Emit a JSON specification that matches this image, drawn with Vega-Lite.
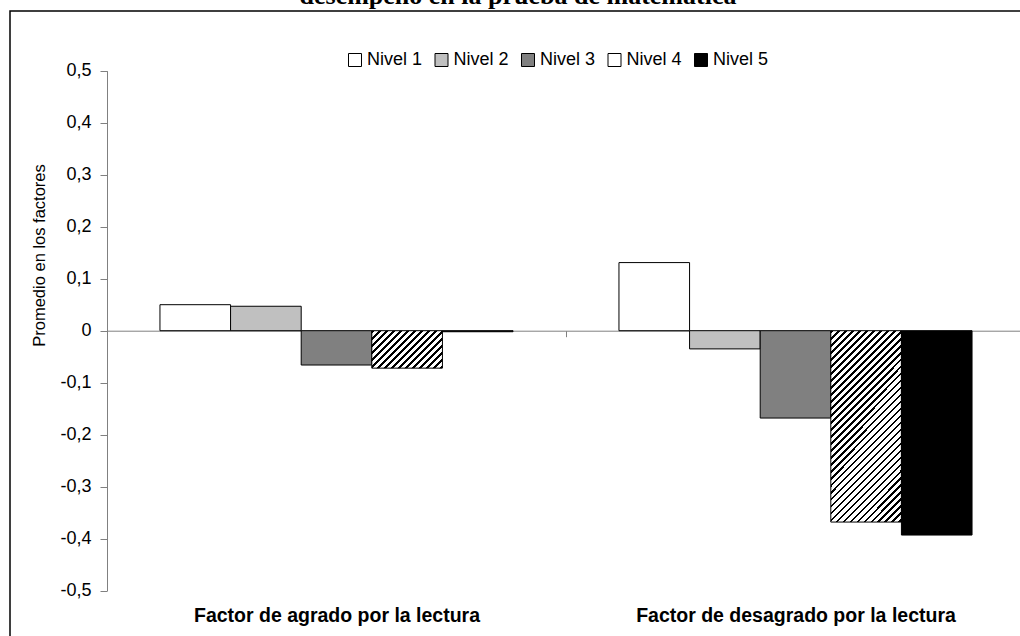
{
  "$schema": "https://vega.github.io/schema/vega-lite/v6.json",
  "autosize": {"type": "none"},
  "padding": {"left": 10, "top": 11, "right": -6, "bottom": -10},
  "width": 1016,
  "height": 635,
  "background": "white",
  "title": {"text": "desempeño en la prueba de matemática", "font": "Liberation Serif", "fontSize": 26, "fontWeight": "bold", "color": "black", "anchor": "middle", "baseline": "alphabetic", "offset": -19},
  "data": {"values": [
    {"Factor": "Factor de agrado por la lectura", "Nivel": "Nivel 1", "Valor": 0.050},
    {"Factor": "Factor de agrado por la lectura", "Nivel": "Nivel 2", "Valor": 0.047},
    {"Factor": "Factor de agrado por la lectura", "Nivel": "Nivel 3", "Valor": -0.066},
    {"Factor": "Factor de agrado por la lectura", "Nivel": "Nivel 4", "Valor": -0.072},
    {"Factor": "Factor de agrado por la lectura", "Nivel": "Nivel 5", "Valor": -0.002},
    {"Factor": "Factor de desagrado por la lectura", "Nivel": "Nivel 1", "Valor": 0.131},
    {"Factor": "Factor de desagrado por la lectura", "Nivel": "Nivel 2", "Valor": -0.035},
    {"Factor": "Factor de desagrado por la lectura", "Nivel": "Nivel 3", "Valor": -0.168},
    {"Factor": "Factor de desagrado por la lectura", "Nivel": "Nivel 4", "Valor": -0.368},
    {"Factor": "Factor de desagrado por la lectura", "Nivel": "Nivel 5", "Valor": -0.393}
  ]},
  "mark": {"type": "bar", "stroke": "black", "strokeWidth": 1},
  "encoding": {
    "x": {"field": "Factor", "type": "nominal", "sort": null,
      "scale": {"range": [97, 1015], "paddingInner": 0, "paddingOuter": 0},
      "axis": {"orient": "bottom", "offset": -315.3, "title": null, "domainColor": "#808080", "tickColor": "#808080", "tickBand": "extent", "tickSize": 6, "labelPadding": 270, "labelFontSize": 19.5, "labelFontWeight": "bold", "labelColor": "black", "labelAngle": 0, "labelLimit": 0, "grid": false}},
    "xOffset": {"field": "Nivel", "type": "nominal", "scale": {"paddingInner": 0, "paddingOuter": 0.75}},
    "y": {"field": "Valor", "type": "quantitative",
      "scale": {"domain": [-0.5, 0.5], "range": [579.7, 59.7], "nice": false, "zero": false},
      "axis": {"orient": "left", "offset": -97, "values": [-0.5, -0.4, -0.3, -0.2, -0.1, 0, 0.1, 0.2, 0.3, 0.4, 0.5],
        "labelExpr": "datum.value == 0 ? '0' : (datum.value < 0 ? '-' : '') + replace(format(abs(datum.value), '.1f'), '.', ',')",
        "domainColor": "#808080", "tickColor": "#808080", "tickSize": 7, "labelPadding": 9, "labelFontSize": 18, "labelColor": "black", "grid": false,
        "title": "Promedio en los factores", "titleFontSize": 16.5, "titleFontWeight": "normal", "titleColor": "black", "titleX": -60, "titleY": 244, "titleAngle": -90, "titleAlign": "center", "titleBaseline": "bottom"}},
    "fill": {
      "condition": [
        {"test": "datum.Nivel == 'Nivel 4' && datum.Factor == 'Factor de agrado por la lectura'", "value": {"gradient": "linear", "x1": 0, "y1": 0, "x2": 2.984, "y2": 1.582, "stops": [
          {"offset":0,"color":"#000"},{"offset":0.0104,"color":"#000"},{"offset":0.0104,"color":"#fff"},{"offset":0.0259,"color":"#fff"},
          {"offset":0.0259,"color":"#000"},{"offset":0.0363,"color":"#000"},{"offset":0.0363,"color":"#fff"},{"offset":0.0519,"color":"#fff"},
          {"offset":0.0519,"color":"#000"},{"offset":0.0622,"color":"#000"},{"offset":0.0622,"color":"#fff"},{"offset":0.0778,"color":"#fff"},
          {"offset":0.0778,"color":"#000"},{"offset":0.0881,"color":"#000"},{"offset":0.0881,"color":"#fff"},{"offset":0.1037,"color":"#fff"},
          {"offset":0.1037,"color":"#000"},{"offset":0.1141,"color":"#000"},{"offset":0.1141,"color":"#fff"},{"offset":0.1296,"color":"#fff"},
          {"offset":0.1296,"color":"#000"},{"offset":0.1400,"color":"#000"},{"offset":0.1400,"color":"#fff"},{"offset":0.1556,"color":"#fff"},
          {"offset":0.1556,"color":"#000"},{"offset":0.1659,"color":"#000"},{"offset":0.1659,"color":"#fff"},{"offset":0.1815,"color":"#fff"},
          {"offset":0.1815,"color":"#000"},{"offset":0.1919,"color":"#000"},{"offset":0.1919,"color":"#fff"},{"offset":0.2074,"color":"#fff"},
          {"offset":0.2074,"color":"#000"},{"offset":0.2178,"color":"#000"},{"offset":0.2178,"color":"#fff"},{"offset":0.2333,"color":"#fff"},
          {"offset":0.2333,"color":"#000"},{"offset":0.2437,"color":"#000"},{"offset":0.2437,"color":"#fff"},{"offset":0.2593,"color":"#fff"},
          {"offset":0.2593,"color":"#000"},{"offset":0.2696,"color":"#000"},{"offset":0.2696,"color":"#fff"},{"offset":0.2852,"color":"#fff"},
          {"offset":0.2852,"color":"#000"},{"offset":0.2956,"color":"#000"},{"offset":0.2956,"color":"#fff"},{"offset":0.3111,"color":"#fff"},
          {"offset":0.3111,"color":"#000"},{"offset":0.3215,"color":"#000"},{"offset":0.3215,"color":"#fff"},{"offset":0.3370,"color":"#fff"},
          {"offset":0.3370,"color":"#000"},{"offset":0.3474,"color":"#000"},{"offset":0.3474,"color":"#fff"},{"offset":0.3630,"color":"#fff"},
          {"offset":0.3630,"color":"#000"},{"offset":0.3733,"color":"#000"},{"offset":0.3733,"color":"#fff"},{"offset":0.3889,"color":"#fff"},
          {"offset":0.3889,"color":"#000"},{"offset":0.3993,"color":"#000"},{"offset":0.3993,"color":"#fff"},{"offset":0.4148,"color":"#fff"},
          {"offset":0.4148,"color":"#000"},{"offset":0.4252,"color":"#000"},{"offset":0.4252,"color":"#fff"},{"offset":0.4407,"color":"#fff"}
        ]}},
        {"test": "datum.Nivel == 'Nivel 4'", "value": {"gradient": "linear", "x1": 0, "y1": 0, "x2": 0.458, "y2": 1.239, "stops": [
          {"offset":0,"color":"#000"},{"offset":0.0104,"color":"#000"},{"offset":0.0104,"color":"#fff"},{"offset":0.0259,"color":"#fff"},
          {"offset":0.0259,"color":"#000"},{"offset":0.0363,"color":"#000"},{"offset":0.0363,"color":"#fff"},{"offset":0.0519,"color":"#fff"},
          {"offset":0.0519,"color":"#000"},{"offset":0.0622,"color":"#000"},{"offset":0.0622,"color":"#fff"},{"offset":0.0778,"color":"#fff"},
          {"offset":0.0778,"color":"#000"},{"offset":0.0881,"color":"#000"},{"offset":0.0881,"color":"#fff"},{"offset":0.1037,"color":"#fff"},
          {"offset":0.1037,"color":"#000"},{"offset":0.1141,"color":"#000"},{"offset":0.1141,"color":"#fff"},{"offset":0.1296,"color":"#fff"},
          {"offset":0.1296,"color":"#000"},{"offset":0.1400,"color":"#000"},{"offset":0.1400,"color":"#fff"},{"offset":0.1556,"color":"#fff"},
          {"offset":0.1556,"color":"#000"},{"offset":0.1659,"color":"#000"},{"offset":0.1659,"color":"#fff"},{"offset":0.1815,"color":"#fff"},
          {"offset":0.1815,"color":"#000"},{"offset":0.1919,"color":"#000"},{"offset":0.1919,"color":"#fff"},{"offset":0.2074,"color":"#fff"},
          {"offset":0.2074,"color":"#000"},{"offset":0.2178,"color":"#000"},{"offset":0.2178,"color":"#fff"},{"offset":0.2333,"color":"#fff"},
          {"offset":0.2333,"color":"#000"},{"offset":0.2437,"color":"#000"},{"offset":0.2437,"color":"#fff"},{"offset":0.2593,"color":"#fff"},
          {"offset":0.2593,"color":"#000"},{"offset":0.2696,"color":"#000"},{"offset":0.2696,"color":"#fff"},{"offset":0.2852,"color":"#fff"},
          {"offset":0.2852,"color":"#000"},{"offset":0.2956,"color":"#000"},{"offset":0.2956,"color":"#fff"},{"offset":0.3111,"color":"#fff"},
          {"offset":0.3111,"color":"#000"},{"offset":0.3215,"color":"#000"},{"offset":0.3215,"color":"#fff"},{"offset":0.3370,"color":"#fff"},
          {"offset":0.3370,"color":"#000"},{"offset":0.3474,"color":"#000"},{"offset":0.3474,"color":"#fff"},{"offset":0.3630,"color":"#fff"},
          {"offset":0.3630,"color":"#000"},{"offset":0.3733,"color":"#000"},{"offset":0.3733,"color":"#fff"},{"offset":0.3889,"color":"#fff"},
          {"offset":0.3889,"color":"#000"},{"offset":0.3993,"color":"#000"},{"offset":0.3993,"color":"#fff"},{"offset":0.4148,"color":"#fff"},
          {"offset":0.4148,"color":"#000"},{"offset":0.4252,"color":"#000"},{"offset":0.4252,"color":"#fff"},{"offset":0.4407,"color":"#fff"},
          {"offset":0.4407,"color":"#000"},{"offset":0.4511,"color":"#000"},{"offset":0.4511,"color":"#fff"},{"offset":0.4667,"color":"#fff"},
          {"offset":0.4667,"color":"#000"},{"offset":0.4770,"color":"#000"},{"offset":0.4770,"color":"#fff"},{"offset":0.4926,"color":"#fff"},
          {"offset":0.4926,"color":"#000"},{"offset":0.5030,"color":"#000"},{"offset":0.5030,"color":"#fff"},{"offset":0.5185,"color":"#fff"},
          {"offset":0.5185,"color":"#000"},{"offset":0.5289,"color":"#000"},{"offset":0.5289,"color":"#fff"},{"offset":0.5444,"color":"#fff"},
          {"offset":0.5444,"color":"#000"},{"offset":0.5548,"color":"#000"},{"offset":0.5548,"color":"#fff"},{"offset":0.5704,"color":"#fff"},
          {"offset":0.5704,"color":"#000"},{"offset":0.5807,"color":"#000"},{"offset":0.5807,"color":"#fff"},{"offset":0.5963,"color":"#fff"},
          {"offset":0.5963,"color":"#000"},{"offset":0.6067,"color":"#000"},{"offset":0.6067,"color":"#fff"},{"offset":0.6222,"color":"#fff"},
          {"offset":0.6222,"color":"#000"},{"offset":0.6326,"color":"#000"},{"offset":0.6326,"color":"#fff"},{"offset":0.6481,"color":"#fff"},
          {"offset":0.6481,"color":"#000"},{"offset":0.6585,"color":"#000"},{"offset":0.6585,"color":"#fff"},{"offset":0.6741,"color":"#fff"},
          {"offset":0.6741,"color":"#000"},{"offset":0.6844,"color":"#000"},{"offset":0.6844,"color":"#fff"},{"offset":0.7000,"color":"#fff"},
          {"offset":0.7000,"color":"#000"},{"offset":0.7104,"color":"#000"},{"offset":0.7104,"color":"#fff"},{"offset":0.7259,"color":"#fff"},
          {"offset":0.7259,"color":"#000"},{"offset":0.7363,"color":"#000"},{"offset":0.7363,"color":"#fff"},{"offset":0.7519,"color":"#fff"},
          {"offset":0.7519,"color":"#000"},{"offset":0.7622,"color":"#000"},{"offset":0.7622,"color":"#fff"},{"offset":0.7778,"color":"#fff"},
          {"offset":0.7778,"color":"#000"},{"offset":0.7881,"color":"#000"},{"offset":0.7881,"color":"#fff"},{"offset":0.8037,"color":"#fff"},
          {"offset":0.8037,"color":"#000"},{"offset":0.8141,"color":"#000"},{"offset":0.8141,"color":"#fff"},{"offset":0.8296,"color":"#fff"},
          {"offset":0.8296,"color":"#000"},{"offset":0.8400,"color":"#000"},{"offset":0.8400,"color":"#fff"},{"offset":0.8556,"color":"#fff"},
          {"offset":0.8556,"color":"#000"},{"offset":0.8659,"color":"#000"},{"offset":0.8659,"color":"#fff"},{"offset":0.8815,"color":"#fff"},
          {"offset":0.8815,"color":"#000"},{"offset":0.8919,"color":"#000"},{"offset":0.8919,"color":"#fff"},{"offset":0.9074,"color":"#fff"},
          {"offset":0.9074,"color":"#000"},{"offset":0.9178,"color":"#000"},{"offset":0.9178,"color":"#fff"},{"offset":0.9333,"color":"#fff"},
          {"offset":0.9333,"color":"#000"},{"offset":0.9437,"color":"#000"},{"offset":0.9437,"color":"#fff"},{"offset":0.9593,"color":"#fff"},
          {"offset":0.9593,"color":"#000"},{"offset":0.9696,"color":"#000"},{"offset":0.9696,"color":"#fff"},{"offset":0.9852,"color":"#fff"},
          {"offset":0.9852,"color":"#000"},{"offset":0.9956,"color":"#000"},{"offset":0.9956,"color":"#fff"},{"offset":1,"color":"#fff"}
        ]}}
      ],
      "field": "Nivel", "type": "nominal",
      "scale": {"domain": ["Nivel 1", "Nivel 2", "Nivel 3", "Nivel 4", "Nivel 5"], "range": ["#ffffff", "#c0c0c0", "#808080", "#ffffff", "#000000"]},
      "legend": {"orient": "none", "legendX": 336, "legendY": 40, "direction": "horizontal", "columns": 5, "title": null,
        "symbolType": "square", "symbolSize": 169, "symbolStrokeColor": "black", "symbolStrokeWidth": 1, "symbolOpacity": 1,
        "labelFontSize": 18, "labelColor": "black", "labelOffset": 3, "columnPadding": 9.5,
        "encode": {"symbols": {"update": {
          "fill": {"value": {"expr": "datum.value === 'Nivel 4' ? {gradient: 'linear', x1: 0, y1: 0, x2: 10.385, y2: 10.385, stops: [{offset: 0, color: '#000'}, {offset: 0.0104, color: '#000'}, {offset: 0.0104, color: '#fff'}, {offset: 0.0259, color: '#fff'}, {offset: 0.0259, color: '#000'}, {offset: 0.0363, color: '#000'}, {offset: 0.0363, color: '#fff'}, {offset: 0.0519, color: '#fff'}, {offset: 0.0519, color: '#000'}, {offset: 0.0622, color: '#000'}, {offset: 0.0622, color: '#fff'}, {offset: 0.0778, color: '#fff'}, {offset: 0.0778, color: '#000'}, {offset: 0.0881, color: '#000'}, {offset: 0.0881, color: '#fff'}, {offset: 0.1037, color: '#fff'}]} : scale('fill', datum.value)"}},
          "stroke": {"value": "black"},
          "strokeWidth": {"value": 1}}}}}
    }
  },
  "config": {
    "font": "Liberation Sans",
    "view": {"stroke": "black", "strokeWidth": 1.5}
  }
}
